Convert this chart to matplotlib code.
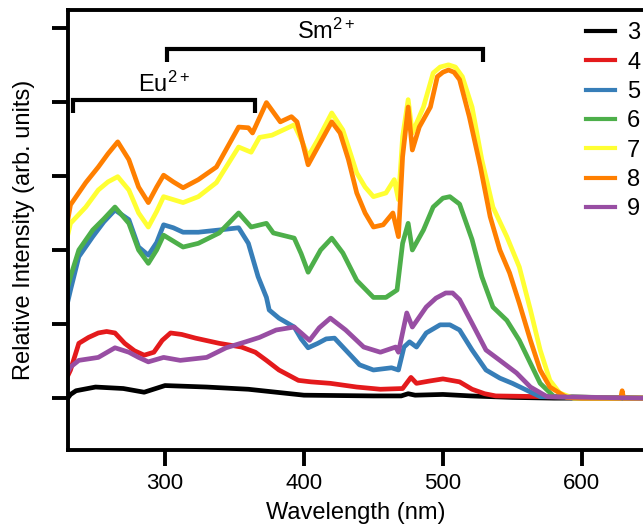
import numpy as np
import matplotlib
matplotlib.use("Agg")
import matplotlib.pyplot as plt

plt.rcParams['font.family'] = ['Liberation Sans', 'DejaVu Sans']
plt.rcParams['mathtext.fontset'] = 'custom'
plt.rcParams['mathtext.rm'] = 'Liberation Sans'
plt.rcParams['mathtext.it'] = 'Liberation Sans'

# sample 3
wl3 = [230, 232, 236, 250, 270, 285, 300, 330, 360, 380, 400, 450, 470, 475, 480, 500, 520, 550, 580, 644]
y3 = [0.0, 0.05, 0.1, 0.15, 0.13, 0.08, 0.17, 0.15, 0.12, 0.08, 0.04, 0.03, 0.03, 0.06, 0.04, 0.05, 0.03, 0.01, 0.0, 0.0]
# sample 4
wl4 = [230, 232, 238, 245, 252, 258, 264, 271, 278, 285, 292, 298, 304, 312, 322, 339, 355, 365,
       373, 382, 390, 396, 405, 419, 438, 455, 471, 477, 481, 490, 500, 512, 521, 530, 538, 644]
y4 = [0.3, 0.38, 0.74, 0.82, 0.88, 0.9, 0.88, 0.74, 0.64, 0.58, 0.62, 0.78, 0.88, 0.86, 0.81, 0.74,
      0.69, 0.62, 0.51, 0.38, 0.3, 0.24, 0.22, 0.2, 0.15, 0.12, 0.13, 0.28, 0.2, 0.23, 0.26, 0.22,
      0.12, 0.06, 0.03, 0.0]
# sample 5
wl5 = [230, 232, 238, 248, 256, 264, 274, 281, 288, 294, 299, 306, 313, 324, 339, 353, 360, 367,
       373, 375, 382, 393, 398, 403, 410, 416, 422, 430, 440, 450, 463, 468, 472, 476, 481, 488,
       498, 505, 512, 521, 531, 541, 550, 560, 570, 644]
y5 = [1.3, 1.46, 1.91, 2.18, 2.38, 2.54, 2.41, 2.04, 1.93, 2.1, 2.34, 2.3, 2.24, 2.24, 2.27, 2.30,
      2.09, 1.64, 1.36, 1.19, 1.08, 0.96, 0.8, 0.68, 0.74, 0.8, 0.81, 0.65, 0.45, 0.38, 0.41, 0.38,
      0.69, 0.76, 0.69, 0.88, 0.99, 0.99, 0.92, 0.65, 0.38, 0.27, 0.20, 0.11, 0.02, 0.0]
# sample 6
wl6 = [230, 232, 238, 248, 256, 264, 274, 281, 288, 294, 299, 306, 313, 324, 339, 353, 362, 373,
       378, 393, 398, 403, 412, 420, 428, 438, 450, 459, 467, 471, 475, 478, 486, 493, 500, 505,
       512, 521, 528, 536, 546, 555, 563, 570, 580, 644]
y6 = [1.5, 1.64, 2.0, 2.27, 2.42, 2.58, 2.36, 2.0, 1.82, 2.0, 2.20, 2.12, 2.04, 2.09, 2.23, 2.50,
      2.31, 2.36, 2.23, 2.16, 1.95, 1.70, 2.0, 2.16, 1.96, 1.59, 1.36, 1.36, 1.46, 2.09, 2.36, 2.0,
      2.27, 2.58, 2.7, 2.72, 2.62, 2.14, 1.64, 1.23, 1.05, 0.78, 0.47, 0.20, 0.02, 0.0]
# sample 7
wl7 = [230, 232, 243, 252, 259, 266, 274, 281, 288, 294, 299, 313, 324, 337, 353, 362, 368, 377,
       393, 399, 403, 410, 420, 428, 438, 444, 450, 459, 465, 468, 471, 475, 478, 486, 493, 498,
       504, 509, 514, 521, 528, 536, 546, 555, 563, 570, 577, 584, 594, 628, 629, 630, 644]
y7 = [2.2, 2.36, 2.58, 2.81, 2.92, 2.99, 2.81, 2.50, 2.31, 2.52, 2.72, 2.64, 2.72, 2.91, 3.39, 3.32,
      3.52, 3.55, 3.69, 3.45, 3.26, 3.49, 3.85, 3.62, 3.04, 2.85, 2.72, 2.77, 2.95, 2.68, 3.53, 4.03,
      3.58, 3.93, 4.39, 4.47, 4.50, 4.47, 4.34, 3.93, 3.22, 2.58, 2.18, 1.77, 1.19, 0.65, 0.24,
      0.07, 0.0, 0.0, 0.08, 0.0, 0.0]
# sample 8
wl8 = [230, 232, 243, 252, 259, 266, 274, 281, 288, 294, 299, 306, 313, 324, 337, 353, 360, 363,
       373, 378, 383, 391, 395, 399, 403, 410, 420, 426, 432, 438, 444, 450, 457, 464, 468, 471,
       475, 478, 483, 491, 496, 500, 504, 508, 512, 519, 527, 534, 541, 548, 555, 563, 570, 577,
       589, 600, 628, 629, 630, 644]
y8 = [2.4, 2.61, 2.91, 3.12, 3.3, 3.46, 3.22, 2.85, 2.64, 2.85, 3.01, 2.92, 2.84, 2.95, 3.12, 3.66,
      3.65, 3.58, 3.99, 3.86, 3.73, 3.80, 3.73, 3.45, 3.15, 3.39, 3.73, 3.58, 3.22, 2.77, 2.5, 2.31,
      2.34, 2.50, 2.18, 3.26, 3.93, 3.35, 3.66, 3.93, 4.34, 4.4, 4.43, 4.4, 4.30, 3.80, 3.12, 2.45,
      2.00, 1.69, 1.28, 0.78, 0.38, 0.15, 0.01, 0.0, 0.0, 0.1, 0.0, 0.0]
# sample 9
wl9 = [230, 232, 238, 252, 264, 274, 281, 288, 299, 311, 330, 344, 358, 368, 380, 393, 398, 404,
       411, 419, 430, 443, 455, 466, 468, 474, 478, 488, 495, 502, 507, 512, 521, 531, 541, 553,
       563, 575, 644]
y9 = [0.35, 0.42, 0.51, 0.55, 0.68, 0.62, 0.55, 0.49, 0.55, 0.51, 0.55, 0.68, 0.76, 0.82, 0.92, 0.96,
      0.88, 0.78, 0.95, 1.08, 0.92, 0.69, 0.62, 0.69, 0.62, 1.15, 0.96, 1.23, 1.35, 1.42, 1.42,
      1.33, 1.01, 0.65, 0.51, 0.34, 0.15, 0.02, 0.0]

labels = ['3', '4', '5', '6', '7', '8', '9']
colors = ['#000000', '#e41a1c', '#377eb8', '#4daf4a', '#ffff33', '#ff7f00', '#984ea3']

# bracket annotations: (start nm, end nm, level, hook depth)
eu_span = (233.5, 364.7, 4.03, 0.18)
sm_span = (301.4, 528.8, 4.72, 0.18)

fig = plt.figure(figsize=(6.43, 5.29), dpi=100)
ax = fig.add_axes([68 / 643, 79 / 529, 1 - 68 / 643, 440 / 529])

series = [(wl3, y3), (wl4, y4), (wl5, y5), (wl6, y6), (wl7, y7), (wl8, y8), (wl9, y9)]
for (wl, y), c, lab in zip(series, colors, labels):
    ax.plot(wl, y, color=c, lw=3.4, label=lab, solid_joinstyle='round')

for x0, x1, lev, d in [eu_span, sm_span]:
    ax.plot([x0, x0, x1, x1], [lev - d, lev, lev, lev - d], color='black', lw=3,
            solid_joinstyle='miter', solid_capstyle='butt')
ax.text(299, 4.14, r'Eu$^{\mathrm{2+}}$', fontsize=17, ha='center', va='baseline')
ax.text(415.8, 4.85, r'Sm$^{\mathrm{2+}}$', fontsize=17, ha='center', va='baseline')

ax.set_xlim(230.2, 644)
ax.set_ylim(-0.70, 5.24)
ax.set_xticks([300, 400, 500, 600])
ax.set_yticks([0, 1, 2, 3, 4, 5])
ax.set_yticklabels([])
ax.tick_params(direction='out', length=11.5, width=2.8, labelsize=16, pad=5)
ax.spines['right'].set_visible(False)
for s in ['left', 'bottom', 'top']:
    ax.spines[s].set_linewidth(2.8)

ax.set_xlabel('Wavelength (nm)', fontsize=17, labelpad=6)
ax.set_ylabel('Relative Intensity (arb. units)', fontsize=17, labelpad=7)

leg = ax.legend(loc='upper right', bbox_to_anchor=(1.016, 0.999), frameon=False, fontsize=17,
                handlelength=1.25, handletextpad=0.5, labelspacing=0.31, borderaxespad=0.1)
for h in leg.get_lines():
    h.set_linewidth(3)

fig.savefig('out.png', dpi=100)
